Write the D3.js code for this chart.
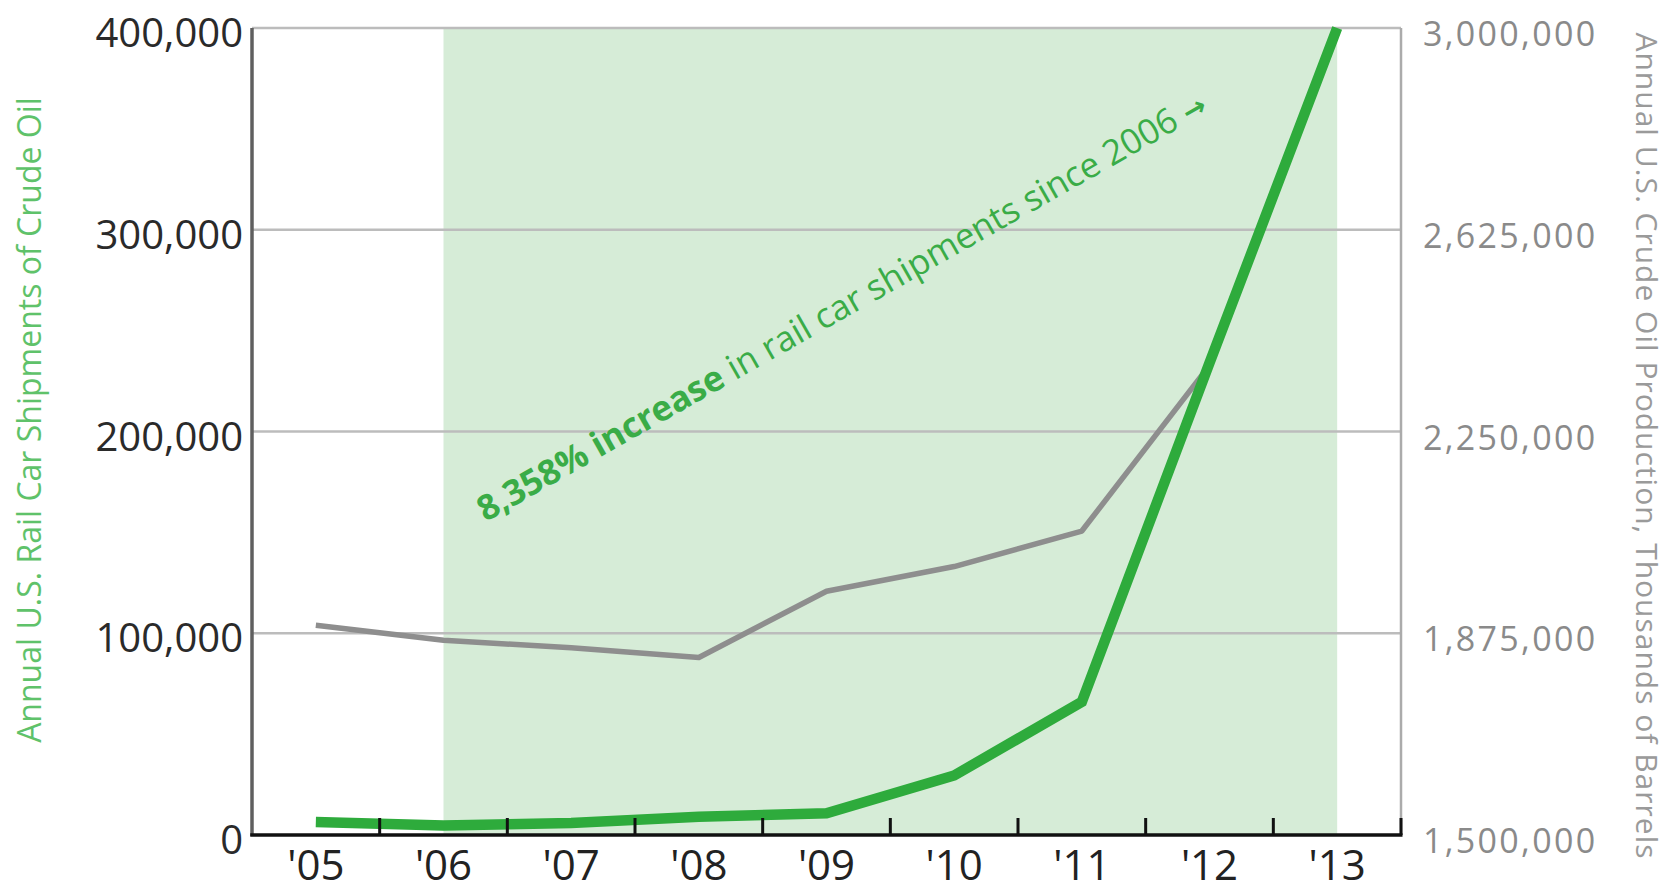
<!DOCTYPE html>
<html><head><meta charset="utf-8">
<script src="https://cdn.jsdelivr.net/npm/d3@7"></script>
<style>body{margin:0;background:#fff}svg{display:block}</style>
</head><body>
<svg id="c" width="1673" height="891"></svg>
<script>
const years = ["'05","'06","'07","'08","'09","'10","'11","'12","'13"];
const railCars = [6400, 4700, 5900, 9000, 10800, 29500, 66000, 234000, 400000];
const production = [1890000, 1862000, 1848000, 1830000, 1953000, 1999000, 2065000, 2373000, null];
const leftTicks = [0, 100000, 200000, 300000, 400000];
const rightTicks = [1500000, 1875000, 2250000, 2625000, 3000000];
const shadeFrom = "'06", shadeTo = "'13";
const annotationBold = "8,358% increase";
const annotationRest = " in rail car shipments since 2006 ";
const annotationArrow = "\u2192";
const leftTitle = "Annual U.S. Rail Car Shipments of Crude Oil";
const rightTitle = "Annual U.S. Crude Oil Production, Thousands of Barrels";

const svg = d3.select("#c");
const L = 252, R = 1401, T = 28, B = 835;
const x = d3.scaleBand().domain(years).range([L, R]);
const bw = x.bandwidth();
const xc = d => x(d) + bw / 2;
const yL = d3.scaleLinear().domain([0, 400000]).range([B, T]);
const yR = d3.scaleLinear().domain([1500000, 3000000]).range([B, T]);
const fmt = d3.format(",");
const font = "'Open Sans', 'Noto Sans', sans-serif";

// shaded region
svg.append("rect")
  .attr("x", xc(shadeFrom)).attr("y", T)
  .attr("width", xc(shadeTo) - xc(shadeFrom)).attr("height", B - T)
  .attr("fill", "#d6ecd7");

// gridlines
svg.append("g").selectAll("line").data(leftTicks.filter(d => d > 0)).join("line")
  .attr("x1", L).attr("x2", R).attr("y1", d => yL(d)).attr("y2", d => yL(d))
  .attr("stroke", "#bcbcbc").attr("stroke-width", 2.5);

// right axis line
svg.append("line").attr("x1", R).attr("x2", R).attr("y1", T).attr("y2", B)
  .attr("stroke", "#ababab").attr("stroke-width", 2.5);

// production line
svg.append("path").datum(years.map((y, i) => [y, production[i]]).filter(d => d[1] != null))
  .attr("fill", "none").attr("stroke", "#8e8e8e").attr("stroke-width", 5.5)
  .attr("stroke-linejoin", "round")
  .attr("d", d3.line().x(d => xc(d[0])).y(d => yR(d[1])));

// rail car line
svg.append("path").datum(years.map((y, i) => [y, railCars[i]]))
  .attr("fill", "none").attr("stroke", "#2eab3c").attr("stroke-width", 10.5)
  .attr("stroke-linejoin", "miter")
  .attr("d", d3.line().x(d => xc(d[0])).y(d => yL(d[1])));

// left axis line
svg.append("line").attr("x1", L).attr("x2", L).attr("y1", T).attr("y2", B + 1)
  .attr("stroke", "#5f5f5f").attr("stroke-width", 3.5);

// x axis
svg.append("line").attr("x1", L - 1.75).attr("x2", R + 1.5).attr("y1", B).attr("y2", B)
  .attr("stroke", "#111").attr("stroke-width", 3.5);
svg.append("g").selectAll("line").data(years.slice(1).concat(["end"])).join("line")
  .attr("x1", d => d === "end" ? R : x(d)).attr("x2", d => d === "end" ? R : x(d))
  .attr("y1", B).attr("y2", B - 17)
  .attr("stroke", "#111").attr("stroke-width", 3);
svg.append("g").selectAll("text").data(years).join("text")
  .attr("x", d => xc(d)).attr("y", B + 45)
  .attr("text-anchor", "middle").attr("font-family", font).attr("font-size", 42)
  .attr("fill", "#222").text(d => d);

// left tick labels
svg.append("g").selectAll("text").data(leftTicks).join("text")
  .attr("x", L - 9).attr("y", d => yL(d) + 19)
  .attr("text-anchor", "end").attr("font-family", font).attr("font-size", 40)
  .attr("fill", "#2a2a2a").text(d => fmt(d));

// right tick labels
svg.append("g").selectAll("text").data(rightTicks).join("text")
  .attr("x", R + 22).attr("y", d => yR(d) + 18)
  .attr("text-anchor", "start").attr("font-family", font).attr("font-size", 34)
  .attr("letter-spacing", 2.3)
  .attr("fill", "#8a8a8a").text(d => fmt(d));

// axis titles
svg.append("text").attr("transform", `translate(41,420) rotate(-90)`)
  .attr("text-anchor", "middle").attr("font-family", font).attr("font-size", 32)
  .attr("fill", "#5fc26a").text(leftTitle);
svg.append("text").attr("transform", `translate(1636,446) rotate(90)`)
  .attr("text-anchor", "middle").attr("font-family", font).attr("font-size", 30)
  .attr("letter-spacing", 1)
  .attr("fill", "#9a9a9a").text(rightTitle);

// annotation
const ax = xc(shadeFrom) + 0.33 * bw, ay = yL(155000);
const ann = svg.append("text").attr("transform", `translate(${ax},${ay}) rotate(-29.6)`)
  .attr("font-family", font).attr("font-size", 35).attr("fill", "#3aac47");
ann.append("tspan").attr("font-weight", "bold").text(annotationBold);
ann.append("tspan").text(annotationRest);
ann.append("tspan").attr("font-weight", "bold").attr("font-family", "'DejaVu Sans', sans-serif")
  .attr("font-size", 28).text(annotationArrow);
</script>
</body></html>
